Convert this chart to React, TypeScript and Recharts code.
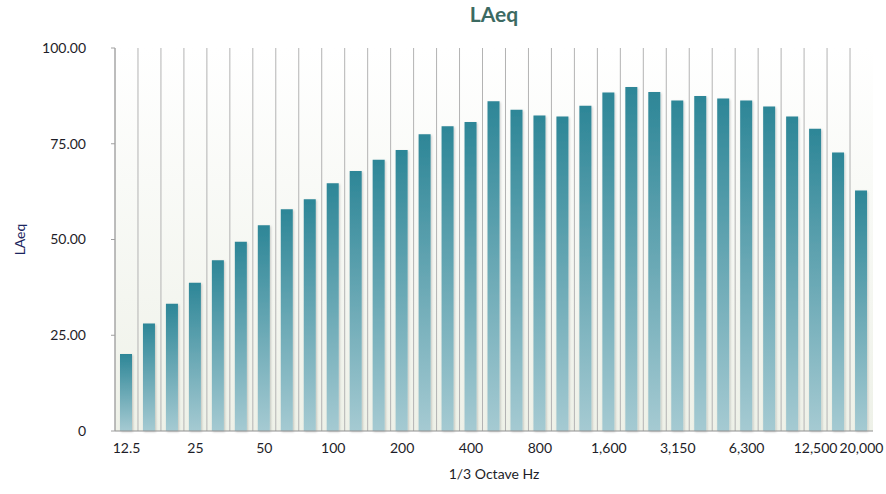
import { BarChart, Bar, XAxis, YAxis, CartesianGrid } from "recharts";

const hzLabels = [
  "12.5", "16", "20", "25", "31.5", "40", "50", "63", "80", "100", "125",
  "160", "200", "250", "315", "400", "500", "630", "800", "1,000", "1,250",
  "1,600", "2,000", "2,500", "3,150", "4,000", "5,000", "6,300", "8,000",
  "10,000", "12,500", "16,000", "20,000",
];

const laeqValues = [
  20.1, 28.1, 33.2, 38.7, 44.6, 49.4, 53.7, 57.9, 60.5, 64.7, 67.9, 70.8,
  73.4, 77.5, 79.6, 80.7, 86.1, 83.9, 82.4, 82.1, 84.9, 88.4, 89.8, 88.5,
  86.3, 87.5, 86.8, 86.3, 84.7, 82.1, 78.9, 72.7, 62.8,
];

const xTicks = [
  "12.5", "25", "50", "100", "200", "400", "800", "1,600", "3,150", "6,300",
  "12,500", "20,000",
];

const yTicks = [0, 25, 50, 75, 100];

const data = hzLabels.map((hz, i) => ({ hz, laeq: laeqValues[i] }));

const font = "Lato, 'Open Sans', sans-serif";
const tickStyle = { fontSize: 14, fill: "#1d1d28", fontFamily: font };

export default function App() {
  return (
    <div
      style={{
        position: "absolute",
        left: 0,
        top: 0,
        width: 886,
        height: 494,
        background: "#fff",
        fontFamily: font,
      }}
    >
      <div
        style={{
          position: "absolute",
          left: 115,
          width: 758,
          top: 1,
          textAlign: "center",
          fontSize: 21,
          fontWeight: 700,
          color: "#3c6a62",
        }}
      >
        LAeq
      </div>
      <BarChart
        width={886}
        height={494}
        data={data}
        margin={{ top: 48, right: 13, bottom: 0, left: 0 }}
      >
        <defs>
          <linearGradient id="barGrad" x1="0" y1="0" x2="0" y2="1">
            <stop offset="0%" stopColor="#2d8697" />
            <stop offset="100%" stopColor="#a5cad2" />
          </linearGradient>
          <linearGradient id="bgGrad" x1="0" y1="0" x2="0" y2="1">
            <stop offset="0%" stopColor="#ffffff" />
            <stop offset="100%" stopColor="#eef1e8" />
          </linearGradient>
          <filter id="barShadow" x="-30%" y="-5%" width="160%" height="110%">
            <feDropShadow dx="1" dy="1" stdDeviation="1" floodColor="#000" floodOpacity="0.2" />
          </filter>
        </defs>
        <CartesianGrid
          horizontal={false}
          stroke="#b3b3b3"
          fill="url(#bgGrad)"
          fillOpacity={1}
          verticalCoordinatesGenerator={({ offset }: any) =>
            hzLabels.map((_, i) => offset.left + (i * offset.width) / hzLabels.length)
          }
        />
        <XAxis
          dataKey="hz"
          ticks={xTicks}
          interval={0}
          height={63}
          tickLine={false}
          tickSize={6}
          tickMargin={6}
          axisLine={{ stroke: "#8f8f8f" }}
          tick={tickStyle}
          label={{
            value: "1/3 Octave Hz",
            position: "insideBottom",
            offset: 15,
            style: { fontSize: 14, fill: "#1d1d28", fontFamily: font },
          }}
        />
        <YAxis
          width={115}
          domain={[0, 100]}
          ticks={yTicks}
          tickSize={4}
          tickMargin={25}
          axisLine={{ stroke: "#a0a0a0" }}
          tickLine={{ stroke: "#a0a0a0" }}
          tick={tickStyle}
          tickFormatter={(v: number) => (v === 0 ? "0" : v.toFixed(2))}
          label={({ viewBox }: any) => (
            <text
              x={viewBox.x + 19}
              y={viewBox.y + viewBox.height / 2}
              transform={`rotate(-90, ${viewBox.x + 19}, ${viewBox.y + viewBox.height / 2})`}
              textAnchor="middle"
              dominantBaseline="central"
              fontSize={14}
              fill="#1b2560"
              fontFamily={font}
            >
              LAeq
            </text>
          )}
        />
        <Bar
          dataKey="laeq"
          fill="url(#barGrad)"
          barSize={12}
          filter="url(#barShadow)"
          isAnimationActive={false}
        />
      </BarChart>
    </div>
  );
}
